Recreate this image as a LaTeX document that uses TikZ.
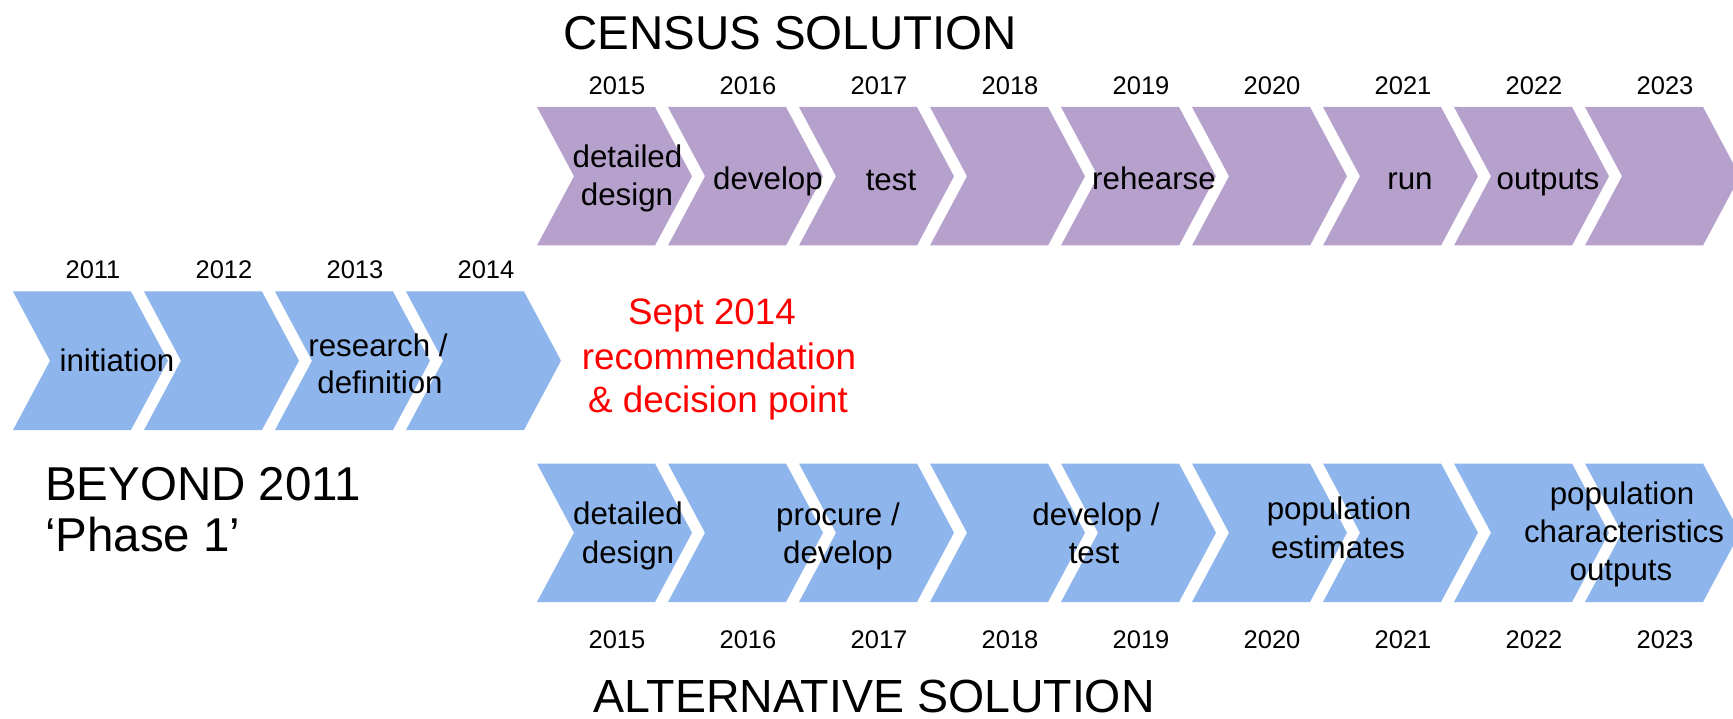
\documentclass[tikz,border=0pt]{standalone}
\usepackage{fontspec}
\setmainfont{Liberation Sans}
\definecolor{purp}{RGB}{182,160,204}
\definecolor{blu}{RGB}{143,182,236}
\definecolor{redtxt}{RGB}{255,0,0}
\newcommand{\chevronshape}[3]{\fill[#3] (#1,#2) -- ++(118,0) -- ++(37,69.25) -- ++(-37,69.25) -- ++(-118,0) -- ++(37,-69.25) -- cycle;}
\begin{document}
\begin{tikzpicture}[x=1pt,y=-1pt,
  big/.style={inner sep=0pt, anchor=base west, font=\fontsize{47.5}{57}\selectfont},
  yr/.style={inner sep=0pt, anchor=base, font=\fontsize{25.5}{30}\selectfont},
  lbl/.style={inner sep=0pt, anchor=base, font=\fontsize{31.3}{37}\selectfont},
  redlbl/.style={inner sep=0pt, anchor=base, text=redtxt, font=\fontsize{36.8}{44}\selectfont}]
\useasboundingbox (0,0) rectangle (1733,719);
\clip (0,0) rectangle (1733,719);
% chevrons
\foreach \k in {0,...,8} {\chevronshape{537+131*\k}{107}{purp}}
\foreach \k in {0,...,3} {\chevronshape{13+131*\k}{291.5}{blu}}
\foreach \k in {0,...,8} {\chevronshape{537+131*\k}{463.5}{blu}}
% years
\foreach \y [count=\i from 0] in {2015,2016,2017,2018,2019,2020,2021,2022,2023}
  {\node[yr] (top\y) at (617+131*\i,94.5) {\y};
   \node[yr] (bot\y) at (617+131*\i,648) {\y};}
\foreach \y [count=\i from 0] in {2011,2012,2013,2014}
  {\node[yr] (mid\y) at (93+131*\i,279) {\y};}
% headings
\node[big] (census) at (563,50) {CENSUS SOLUTION};
\node[big, font=\fontsize{46.5}{56}\selectfont] (alt) at (593,712.5) {ALTERNATIVE SOLUTION};
\node[big] (beyond) at (45,500) {BEYOND 2011};
\node[big] (phase) at (45,551) {‘Phase 1’};
% top row labels
\node[lbl] (t1a) at (627.5,168) {detailed};
\node[lbl] (t1b) at (627,206) {design};
\node[lbl] (t2) at (768,190) {develop};
\node[lbl] (t3) at (891,191) {test};
\node[lbl] (t5) at (1154,190) {rehearse};
\node[lbl] (t7) at (1410,190) {run};
\node[lbl] (t8) at (1548,190) {outputs};
% middle row labels
\node[lbl] (m1) at (117,372) {initiation};
\node[lbl] (m3a) at (378,357) {research /};
\node[lbl] (m3b) at (380,394) {definition};
% decision
\node[redlbl] (d1) at (712,325) {Sept 2014};
\node[redlbl] (d2) at (719,370) {recommendation};
\node[redlbl] (d3) at (718,412) {\& decision point};
% bottom row labels
\node[lbl] (b1a) at (628,524) {detailed};
\node[lbl] (b1b) at (628,563) {design};
\node[lbl] (b2a) at (838,525) {procure /};
\node[lbl] (b2b) at (838,563) {develop};
\node[lbl] (b4a) at (1096,525) {develop /};
\node[lbl] (b4b) at (1094,563) {test};
\node[lbl] (b6a) at (1339,519) {population};
\node[lbl] (b6b) at (1338,558) {estimates};
\node[lbl] (b8a) at (1622,504) {population};
\node[lbl] (b8b) at (1624,542) {characteristics};
\node[lbl] (b8c) at (1621,580) {outputs};
\end{tikzpicture}
\end{document}
